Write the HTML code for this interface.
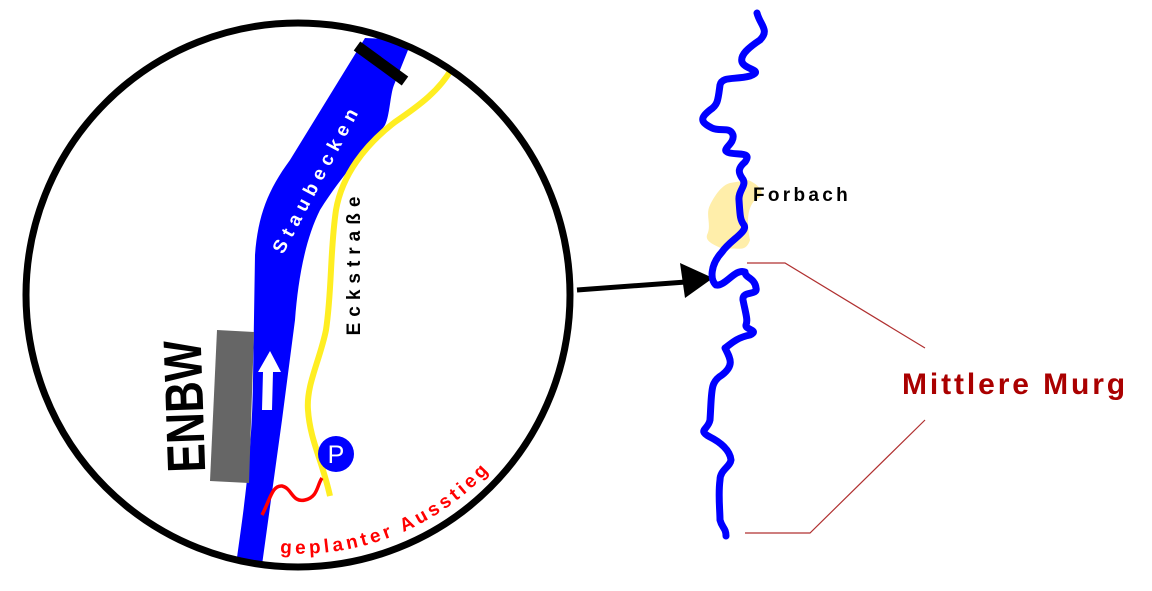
<!DOCTYPE html>
<html><head><meta charset="utf-8"><style>
html,body{margin:0;padding:0;background:#fff;}
svg{display:block;}
text{font-family:"Liberation Sans",Arial,sans-serif;font-weight:bold;}
</style></head><body>
<svg width="1152" height="591" viewBox="0 0 1152 591" xmlns="http://www.w3.org/2000/svg">
<defs>
<clipPath id="cc"><circle cx="298" cy="295" r="272"/></clipPath>
</defs>
<g clip-path="url(#cc)">
<path d="M236,565 C242,520 252,460 253,380 L255,255 C258,215 268,190 290,160 L365,38 L412,40 L394,85 C390,95 390,115 385,125 C375,140 345,170 320,210 C305,240 298,280 295,320 L282,420 L262,565 Z" fill="#0000ff"/>
<line x1="357" y1="46" x2="405" y2="81" stroke="#000" stroke-width="11"/>
<path d="M452,68 C440,90 420,105 395,122 C365,145 342,175 336,210 C330,250 332,290 326,330 C320,360 306,385 308,410 C310,440 322,460 330,496" fill="none" stroke="#ffee22" stroke-width="6"/>
</g>
<circle cx="298" cy="295" r="272" fill="none" stroke="#000" stroke-width="7"/>
<polygon points="217,330 254,332 249,483 210,481" fill="#666"/>
<text transform="translate(203,406) rotate(-92) scale(0.8,1)" font-size="54" text-anchor="middle" fill="#000">ENBW</text>
<polygon points="270,351 281,372 273,372 272,410 262,410 263,372 258,372" fill="#fff"/>
<text transform="translate(316,178) rotate(-62)" font-size="19" text-anchor="middle" fill="#fff" letter-spacing="6" dy="7">Staubecken</text>
<text transform="translate(353,263) rotate(-90)" font-size="19" text-anchor="middle" fill="#000" letter-spacing="6" dy="7">Eckstraße</text>
<path d="M262,515 C270,500 272,485 282,486 C292,488 292,503 305,500 C318,497 317,485 322,478" fill="none" stroke="#ff0000" stroke-width="3.5"/>
<circle cx="336" cy="454" r="18" fill="#0000ff"/>
<text x="336" y="463" font-size="25" text-anchor="middle" fill="#fff" style="font-weight:normal">P</text>
<path id="arcp" d="M280,553 A258,258 0 0 0 520,430" fill="none"/>
<text font-size="19" fill="#ff0000" letter-spacing="3.6"><textPath href="#arcp">geplanter Ausstieg</textPath></text>
<line x1="577" y1="290" x2="686" y2="282" stroke="#000" stroke-width="5"/>
<polygon points="680,263 713,278 685,298" fill="#000"/>
<path d="M748,180 C760,185 768,195 755,200 C745,210 748,230 750,240 C745,255 735,245 725,250 C715,245 705,242 707,235 C712,225 705,215 710,205 C715,195 722,185 730,183 Z" fill="#ffeeaa"/>
<path d="M757,13 C760,25 770,30 760,40 C748,48 740,55 742,62 C745,70 765,70 750,76 C735,80 722,76 720,85 C718,100 718,105 710,110 C700,118 700,122 712,128 C720,132 730,126 733,135 C735,145 718,150 730,153 C740,155 752,152 745,162 C738,168 738,172 742,178 C748,185 738,190 739,200 C740,215 740,220 744,225 C748,232 730,240 722,252 C710,265 710,280 716,285 C725,287 735,268 745,272 C745,278 755,278 756,288 C758,296 742,290 743,300 C746,315 748,320 746,325 C745,330 760,330 750,335 C735,338 730,345 725,348 C730,358 735,365 722,375 C710,382 712,390 710,420 C708,430 697,430 710,437 C720,442 730,450 731,460 C730,467 720,470 720,480 C718,495 720,510 720,520 C722,528 726,528 726,536" fill="none" stroke="#0000ff" stroke-width="7" stroke-linejoin="round" stroke-linecap="round"/>
<text x="753" y="201" font-size="19" fill="#000" letter-spacing="3.3">Forbach</text>
<polyline points="747,263 785,263 925,348" fill="none" stroke="#b03030" stroke-width="1.2"/>
<polyline points="745,533 810,533 925,420" fill="none" stroke="#b03030" stroke-width="1.2"/>
<text x="902" y="394" font-size="30" fill="#aa0000" letter-spacing="2.9">Mittlere Murg</text>
</svg>
</body></html>
